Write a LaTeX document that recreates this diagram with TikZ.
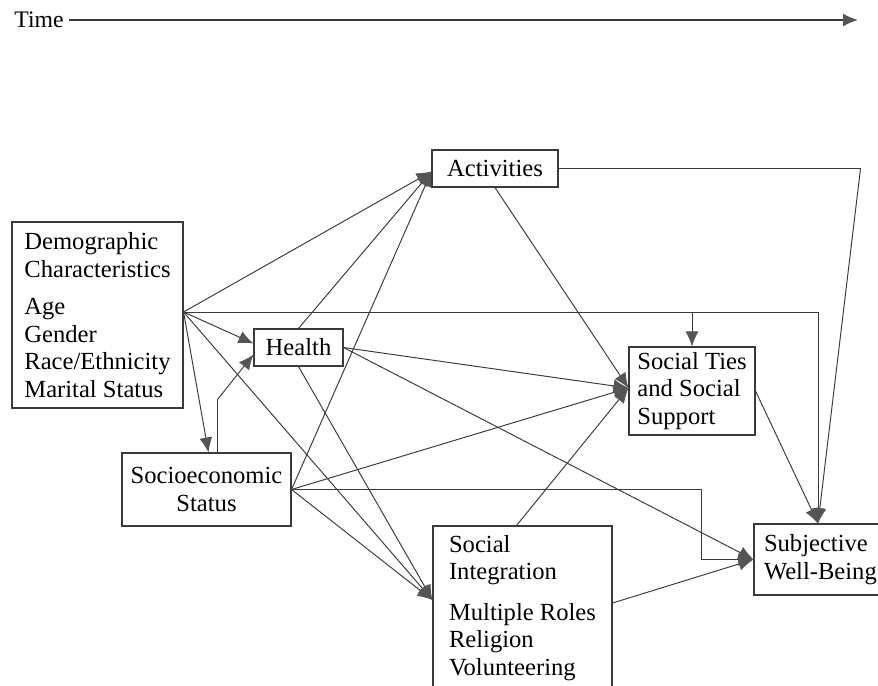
\documentclass[tikz,border=0pt]{standalone}
\usepackage{fontspec}
\setmainfont{Liberation Serif}
\usetikzlibrary{%
  arrows.meta,%
  calc%
}
\definecolor{linegray}{HTML}{3A3A3A}
\definecolor{tipgray}{HTML}{555555}
\tikzset{
  box/.style={draw=linegray,line width=0.6pt,inner sep=0.8mm,
    font=\fontsize{14}{15.65}\selectfont},
  conn/.style={draw=linegray,line width=0.55pt,
    -{Latex[length=3mm,width=2.6mm,color=tipgray]}}
}
\begin{document}
\begin{tikzpicture}[x=0.2mm,y=-0.2mm]
      \useasboundingbox (0,0) rectangle (878,686);
      \node[anchor=west,inner sep=1mm,font=\fontsize{13.5}{16}\selectfont]
      (time) at (9,20) {Time};
      \coordinate (time-end) at (858,20);
      \draw[conn,line width=0.8pt] (time.east) -- (time-end);

      \node[box,minimum width=34.2mm,minimum height=37.2mm,align=left]
      (demo) at (97.5,315) {Demographic\\Characteristics\\[2mm]Age\\Gender\\Race/Ethnicity\\Marital Status};
      \node[box,minimum width=17.8mm,minimum height=7.4mm]
      (health) at (298.5,347.5) {Health};
      \node[box,minimum width=25.2mm,minimum height=7.4mm]
      (act) at (495,168.5) {Activities};
      \node[box,minimum width=33.8mm,minimum height=14.6mm,align=center]
      (ses) at (206.5,489.5) {Socioeconomic\\Status};
      \node[box,minimum width=25.2mm,minimum height=17.6mm,align=left]
      (ties) at (692,391) {Social Ties\\and Social\\Support};
      \node[box,minimum width=35.8mm,minimum height=32.8mm,align=left]
      (integ) at (522.5,608) {Social\\Integration\\[2.6mm]Multiple Roles\\Religion\\Volunteering};
      \node[box,inner xsep=2mm,text width=24mm,minimum height=14.2mm,align=left]
      (swb) at (824,559.5) {Subjective\\Well-Being};

      \coordinate (demo-out) at ($(demo.east)+(0,-3)$);
      \coordinate (act-in) at ($(act.west)+(0,3)$);
      \coordinate (ties-in) at ($(ties.west)+(0,-3)$);
      \coordinate (integ-in) at ($(integ.west)+(0,-8)$);
      \coordinate (act-bend) at ($(act.east)+(302,0)$);
      \coordinate (swb-top) at ($(swb.north)+(-6,0)$);

      \draw[conn] (demo-out) -- (act-in);
      \draw[conn] (demo-out) -- ($(health.west)+(0,-4)$);
      \draw[conn] (demo-out) -- ($(ses.north)+(2,0)$);
      \draw[conn] (demo-out) -- (integ-in);
      \draw[conn] (demo-out) -| (swb-top);
      \draw[conn] (ties.north |- demo-out) -- (ties.north);
      \draw[conn] ($(ses.north)+(11,0)$) -- ++(0,-53) -- ($(health.west)+(0,7)$);

      \draw[conn] (health.north) -- (act-in);
      \draw[conn] (health.south) -- (integ-in);
      \draw[conn] (health.east) -- (ties-in);
      \draw[conn] (health.east) -- (swb.west);

      \draw[conn] (ses.east) -- (act-in);
      \draw[conn] (ses.east) -- (ties-in);
      \draw[conn] (ses.east) -- (integ-in);
      \draw[conn] (ses.east) -- ++(410,0) |- (swb.west);

      \draw[conn] (act.south) -- (ties-in);
      \draw[conn] (act.east) -- (act-bend) -- (swb-top);
      \draw[conn] (ties.east) -- (swb-top);
      \draw[conn] ($(integ.north)+(-6,0)$) -- (ties-in);
      \draw[conn] ($(integ.east)+(0,-5)$) -- (swb.west);
    \end{tikzpicture}
\end{document}
